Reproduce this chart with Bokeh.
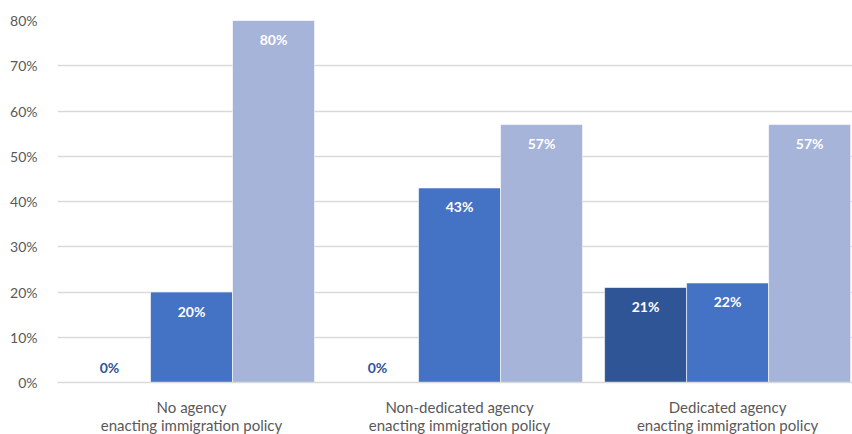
from bokeh.plotting import figure
from bokeh.models import ColumnDataSource, FixedTicker, PrintfTickFormatter, Range1d
from bokeh.core.properties import value
from bokeh.embed import file_html
from bokeh.resources import INLINE

categories = ["No agency\nenacting immigration policy",
              "Non-dedicated agency\nenacting immigration policy",
              "Dedicated agency\nenacting immigration policy"]
series_a = [0, 0, 21]
series_b = [20, 43, 22]
series_c = [80, 57, 57]
y_ticks = [0, 10, 20, 30, 40, 50, 60, 70, 80]

colors = ["#2F5597", "#4472C4", "#A6B4D9"]
offsets = [-0.306, 0.0, 0.306]
bar_w = 0.306
FONT = "Lato"

p = figure(frame_width=795, frame_height=362, output_backend="svg", toolbar_location=None,
           x_range=Range1d(-0.5, 2.466), y_range=Range1d(0, 80),
           min_border_left=57, min_border_right=0, min_border_top=20, min_border_bottom=50)
p.outline_line_color = None
p.background_fill_color = "white"

all_series = [series_a, series_b, series_c]
lab_x, lab_y, lab_t = [], [], []
zero_x, zero_t = [], []
for s, vals in enumerate(all_series):
    xs = [i + offsets[s] for i in range(len(categories))]
    src = ColumnDataSource(dict(x=xs, top=vals))
    p.vbar(x="x", top="top", bottom=0, width=bar_w, source=src,
           fill_color=colors[s], line_color="white", line_width=1, line_alpha=0.6)
    for x, v in zip(xs, vals):
        if v > 0:
            lab_x.append(x); lab_y.append(v); lab_t.append(f"{v}%")
        else:
            zero_x.append(x); zero_t.append(f"{v}%")

p.text(x="x", y="y", text="t", source=ColumnDataSource(dict(x=lab_x, y=lab_y, t=lab_t)),
       text_align="center", text_baseline="middle", y_offset=19,
       text_color="white", text_font=value(FONT), text_font_style="bold", text_font_size="14px")
p.text(x="x", y="y", text="t", source=ColumnDataSource(dict(x=zero_x, y=[0]*len(zero_x), t=zero_t)),
       text_align="center", text_baseline="middle", y_offset=-15,
       text_color="#2F5597", text_font=value(FONT), text_font_style="bold", text_font_size="14px")

p.xgrid.grid_line_color = None
p.ygrid.grid_line_color = "#D9D9D9"
p.ygrid.grid_line_width = 1.5
p.yaxis.ticker = FixedTicker(ticks=y_ticks)
p.yaxis.formatter = PrintfTickFormatter(format="%d%%")
p.yaxis.axis_line_color = None
p.yaxis.major_tick_line_color = None
p.yaxis.minor_tick_line_color = None
p.yaxis.major_label_text_font = FONT
p.yaxis.major_label_text_font_size = "14px"
p.yaxis.major_label_text_color = "#595959"
p.yaxis.major_label_standoff = 14

p.xaxis.ticker = FixedTicker(ticks=list(range(len(categories))))
p.xaxis.major_label_overrides = {i: c for i, c in enumerate(categories)}
p.xaxis.axis_line_color = "#D9D9D9"
p.xaxis.axis_line_width = 1.5
p.xaxis.major_tick_line_color = None
p.xaxis.minor_tick_line_color = None
p.xaxis.major_label_text_font = FONT
p.xaxis.major_label_text_font_size = "15px"
p.xaxis.major_label_text_color = "#595959"
p.xaxis.major_label_standoff = 9
p.xaxis.major_label_text_line_height = 1.0

open("out.html", "w").write(file_html(p, INLINE))
